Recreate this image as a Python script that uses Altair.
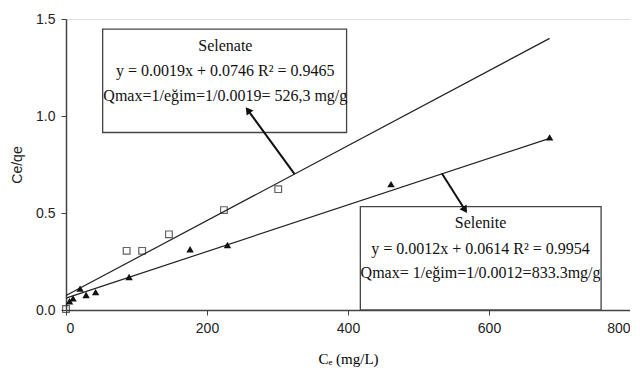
import altair as alt
import pandas as pd

# Selenate (open squares)
selenate_x = [0, 86, 108, 146, 224, 301]
selenate_y = [0.005, 0.305, 0.305, 0.39, 0.515, 0.623]
# Selenite (filled triangles)
selenite_x = [5, 10, 20, 28.5, 42, 89.5, 176, 229, 461, 686]
selenite_y = [0.045, 0.06, 0.11, 0.077, 0.092, 0.17, 0.313, 0.335, 0.649, 0.89]

# Fitted lines (end points)
fit_x = [0, 686]
selenate_fit_y = [0.0746, 1.40]
selenite_fit_y = [0.0614, 0.885]

x_ticks = [0, 200, 400, 600, 800]
y_ticks = [0.0, 0.5, 1.0, 1.5]

# annotation boxes (data coords)
box_names = ["Selenate", "Selenite"]
box_x1 = [52, 417.5]
box_x2 = [398, 759]
box_y1 = [0.915, 0.0]
box_y2 = [1.448, 0.533]

text_lines = [
    "Selenate",
    "y = 0.0019x + 0.0746 R² = 0.9465",
    "Qmax=1/eğim=1/0.0019= 526,3 mg/g",
    "Selenite",
    "y = 0.0012x + 0.0614  R² = 0.9954",
    "Qmax= 1/eğim=1/0.0012=833.3mg/g",
]
text_x = [226, 226, 226, 588, 588, 588]
text_y = [1.362, 1.233, 1.104, 0.449, 0.312, 0.193]

arrow_x1 = [324, 533]
arrow_y1 = [0.702, 0.705]
arrow_x2 = [257, 567]
arrow_y2 = [1.035, 0.510]
head_x = [258, 566]
head_y = [1.030, 0.516]
head_angle = [323.5, 147]

xs = alt.Scale(domain=[0, 800], nice=False, zero=False)
ys = alt.Scale(domain=[0, 1.5], nice=False, zero=False)

sel_df = pd.DataFrame({"x": selenate_x, "y": selenate_y})
seli_df = pd.DataFrame({"x": selenite_x, "y": selenite_y})
fit_df = pd.DataFrame({
    "x": fit_x + fit_x,
    "y": selenate_fit_y + selenite_fit_y,
    "s": ["Selenate"] * 2 + ["Selenite"] * 2,
})
box_df = pd.DataFrame({"n": box_names, "x1": box_x1, "x2": box_x2, "y1": box_y1, "y2": box_y2})
txt_df = pd.DataFrame({"t": text_lines, "x": text_x, "y": text_y})
arr_df = pd.DataFrame({"x1": arrow_x1, "y1": arrow_y1, "x2": arrow_x2, "y2": arrow_y2})
head_df = pd.DataFrame({"x": head_x, "y": head_y, "a": head_angle})

x_axis = alt.Axis(
    values=x_ticks, format="d", title="Cₑ (mg/L)", grid=False,
    titleFont="Liberation Serif", titleFontSize=15, titleFontWeight="normal",
    titleColor="#000", titlePadding=16,
    labelFont="Liberation Sans", labelFontSize=14, labelColor="#222",
    domainColor="#444", domainWidth=1.5, tickColor="#444", tickSize=5,
    labelPadding=6,
)
y_axis = alt.Axis(
    values=y_ticks, format=".1f", title="Ce/qe", grid=False,
    titleFont="Liberation Sans", titleFontSize=14, titleFontWeight="normal",
    titleColor="#222", titlePadding=11,
    labelFont="Liberation Sans", labelFontSize=14, labelColor="#222",
    domainColor="#444", domainWidth=1.5, tickColor="#444", tickSize=5,
    labelPadding=6,
)

boxes = alt.Chart(box_df).mark_rect(fill="white", stroke="#444", strokeWidth=1.3).encode(
    x=alt.X("x1:Q", scale=xs, axis=x_axis), x2="x2:Q",
    y=alt.Y("y1:Q", scale=ys, axis=y_axis), y2="y2:Q",
)

lines = alt.Chart(fit_df).mark_line(color="#222", strokeWidth=1.2).encode(
    x=alt.X("x:Q", scale=xs), y=alt.Y("y:Q", scale=ys), detail="s:N"
)

squares = alt.Chart(sel_df).mark_point(
    shape="square", filled=False, color="#222", size=45, strokeWidth=1.2
).encode(x=alt.X("x:Q", scale=xs), y=alt.Y("y:Q", scale=ys))

tris = alt.Chart(seli_df).mark_point(
    shape="triangle-up", filled=True, color="#111", size=55, opacity=1
).encode(x=alt.X("x:Q", scale=xs), y=alt.Y("y:Q", scale=ys))

arrows = alt.Chart(arr_df).mark_rule(color="#111", strokeWidth=2).encode(
    x=alt.X("x1:Q", scale=xs), y=alt.Y("y1:Q", scale=ys), x2="x2:Q", y2="y2:Q"
)
heads = alt.Chart(head_df).mark_point(
    shape="triangle-up", filled=True, color="#111", size=70, opacity=1
).encode(x=alt.X("x:Q", scale=xs), y=alt.Y("y:Q", scale=ys), angle=alt.Angle("a:Q", scale=None))

texts = alt.Chart(txt_df).mark_text(
    font="Liberation Serif", fontSize=16, color="#111", align="center", baseline="middle"
).encode(x=alt.X("x:Q", scale=xs), y=alt.Y("y:Q", scale=ys), text="t:N")

chart = alt.layer(boxes, lines, arrows, heads, texts, squares, tris).properties(
    width=564, height=291,
    autosize=alt.AutoSizeParams(type="none"),
    padding={"left": 58, "top": 11, "right": 0, "bottom": 59},
).configure_view(stroke="#555", strokeWidth=1.5).configure(background="white")

chart.save("out.html", embed_options={"renderer": "svg", "actions": False})
